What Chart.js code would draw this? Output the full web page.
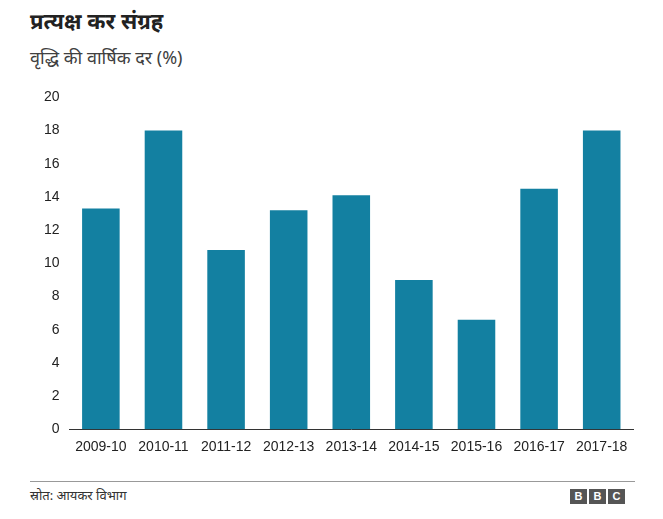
<!DOCTYPE html>
<html>
<head>
<meta charset="utf-8">
<script src="https://cdn.jsdelivr.net/npm/chart.js@4"></script>
<style>
  body { margin: 0; background: #fff; font-family: "Noto Sans", Arial, sans-serif; color: #222; }
  #wrap { position: relative; width: 663px; height: 519px; }
  #title { position: absolute; left: 30px; top: 5px; font-size: 22px; font-weight: bold; }
  #sub { position: absolute; left: 30px; top: 45px; font-size: 18px; color: #404040; }
  #box { position: absolute; left: 34px; top: 79px; width: 611px; height: 387px; }
  #rule { position: absolute; left: 30px; top: 481px; width: 605px; border-top: 1px solid #999; }
  #src { position: absolute; left: 30px; top: 486px; font-size: 13px; color: #333; }
  #bbc { position: absolute; left: 570px; top: 489px; display: flex; gap: 2px; }
  #bbc span { background: #555; color: #fff; font: bold 11px Arial, sans-serif; width: 17px; height: 15px; line-height: 15px; text-align: center; }
</style>
</head>
<body>
<div id="wrap">
  <div id="title">प्रत्यक्ष कर संग्रह</div>
  <div id="sub">वृद्धि की वार्षिक दर (%)</div>
  <div id="box"><canvas id="chart"></canvas></div>
  <div id="rule"></div>
  <div id="src">स्रोत: आयकर विभाग</div>
  <div id="bbc"><span>B</span><span>B</span><span>C</span></div>
</div>
<script>
var years = ["2009-10", "2010-11", "2011-12", "2012-13", "2013-14", "2014-15", "2015-16", "2016-17", "2017-18"];
var growth = [13.3, 18.0, 10.8, 13.2, 14.1, 9.0, 6.6, 14.5, 18.0];

var ctx = document.getElementById("chart").getContext("2d");

new Chart(ctx, {
  type: "bar",
  data: {
    labels: years,
    datasets: [
      {
        label: "वृद्धि",
        data: growth,
        backgroundColor: "#1380A1",
        borderWidth: 0,
        categoryPercentage: 1,
        barPercentage: 0.6,
      },
    ],
  },
  options: {
    responsive: true,
    maintainAspectRatio: false,
    animation: false,
    layout: { padding: { top: 6, right: 12 } },
    plugins: {
      legend: { display: false },
      tooltip: { enabled: false },
    },
    scales: {
      y: {
        min: 0,
        max: 20,
        ticks: {
          stepSize: 2,
          color: "#222",
          padding: 10,
          font: { size: 14, family: "Liberation Sans" },
        },
        grid: { display: false, drawTicks: false },
        border: { display: false },
      },
      x: {
        ticks: {
          color: "#222",
          padding: 10,
          maxRotation: 0,
          autoSkip: false,
          font: { size: 14, family: "Liberation Sans" },
        },
        grid: { display: false, drawTicks: false },
        border: { display: true, color: "#333", width: 1 },
      },
    },
  },
});
</script>
</body>
</html>
